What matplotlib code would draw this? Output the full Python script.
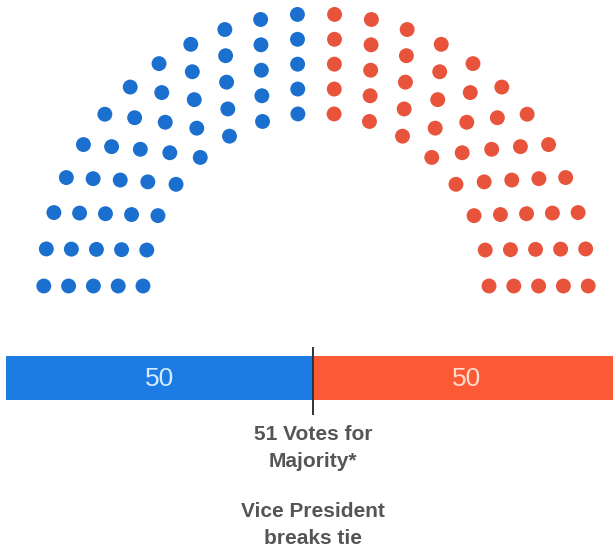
import numpy as np
import matplotlib
matplotlib.use("Agg")
import matplotlib.pyplot as plt

# data
parties = ["Democrats", "Republicans"]
seats = [50, 50]
dot_colors = ["#1b6fcf", "#e8533c"]
bar_colors = ["#1c7ce3", "#fb5a35"]
label_colors = ["#d6ebff", "#ffdccf"]
row_counts = [16, 18, 20, 22, 24]   # seats per arc, inner -> outer
majority_text = "51 Votes for\nMajority*"
tie_text = "Vice President\nbreaks tie"

plt.rcParams['font.family'] = ['Liberation Sans', 'DejaVu Sans']

W, H = 613, 553
fig = plt.figure(figsize=(W / 100, H / 100), dpi=100)

# --- hemicycle (axes in pixel units) ---
ax = fig.add_axes([0, 0, 1, 1])
ax.set_xlim(0, W)
ax.set_ylim(H, 0)
ax.axis('off')

cx, cy = 316, 286
r_inner, r_step = 173, 24.8

pts = []
for i, n in enumerate(row_counts):
    r = r_inner + i * r_step
    for ang in np.linspace(np.pi, 0, n):
        pts.append((ang, cx + r * np.cos(ang), cy - r * np.sin(ang)))
pts.sort(key=lambda p: -p[0])   # left to right by angle

start = 0
for k, s in enumerate(seats):
    chunk = pts[start:start + s]
    start += s
    ax.scatter([p[1] for p in chunk], [p[2] for p in chunk],
               s=115, color=dot_colors[k], edgecolors='none')

# --- seat bar (right end runs off the canvas) ---
total = sum(seats)
bx0, bx1 = 6, 620
by0, by1 = 347, 415          # axes extent (divider line)
axb = fig.add_axes([bx0 / W, 1 - by1 / H, (bx1 - bx0) / W, (by1 - by0) / H])
axb.set_xlim(0, total)
axb.set_ylim(0, 1)
axb.axis('off')

left = 0
for k, s in enumerate(seats):
    axb.barh(0.545, s, left=left, height=0.645, color=bar_colors[k])
    axb.text(left + s / 2, 0.53, str(s), ha='center', va='center',
             fontsize=19, color=label_colors[k])
    left += s
axb.axvline(total / 2, color='#333333', lw=1.4)

fig.text(313 / W, 1 - 448 / H, majority_text, ha='center', va='center',
         fontsize=15, fontweight='bold', color='#555555', linespacing=1.5)
fig.text(313 / W, 1 - 525 / H, tie_text, ha='center', va='center',
         fontsize=15, fontweight='bold', color='#555555', linespacing=1.5)

fig.savefig("out.png", dpi=100)
